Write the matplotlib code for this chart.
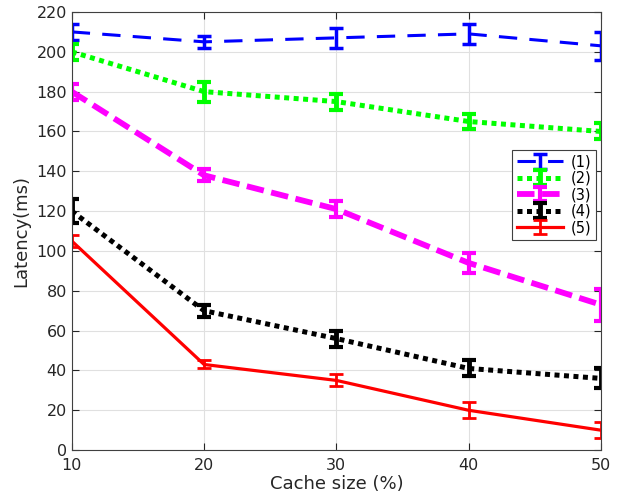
import matplotlib
matplotlib.use('Agg')
import matplotlib.pyplot as plt

# cache size (%) and latency (ms) per configuration
cache_size = [10, 20, 30, 40, 50]

lat1 = [210, 205, 207, 209, 203]
err1 = [4, 3, 5, 5, 7]
lat2 = [200, 180, 175, 165, 160]
err2 = [4, 5, 4, 4, 4]
lat3 = [180, 138, 121, 94, 73]
err3 = [4, 3, 4, 5, 8]
lat4 = [120, 70, 56, 41, 36]
err4 = [6, 3, 4, 4, 5]
lat5 = [105, 43, 35, 20, 10]
err5 = [3, 2, 3, 4, 4]

labels = ['(1)', '(2)', '(3)', '(4)', '(5)']

fig = plt.figure(figsize=(6.24, 4.99), dpi=100)
ax = fig.add_axes([0.115, 0.098, 0.848, 0.878])

ax.errorbar(cache_size, lat1, yerr=err1, color='#0000ff', lw=2.2,
            dashes=(6, 4), capsize=5, capthick=2.5, elinewidth=2.5, label=labels[0])
ax.errorbar(cache_size, lat2, yerr=err2, color='#00ff00', lw=3.6,
            dashes=(1, 0.9), capsize=5, capthick=3, elinewidth=3.5, label=labels[1])
ax.errorbar(cache_size, lat3, yerr=err3, color='#ff00ff', lw=4.2,
            dashes=(3, 1.3), capsize=5, capthick=3, elinewidth=3, label=labels[2])
ax.errorbar(cache_size, lat4, yerr=err4, color='black', lw=3.6,
            dashes=(1, 0.9), capsize=5, capthick=3, elinewidth=3.5, label=labels[3])
ax.errorbar(cache_size, lat5, yerr=err5, color='#ff0000', lw=2.3,
            capsize=5, capthick=2, elinewidth=2, label=labels[4])

ax.set_xlim(10, 50)
ax.set_ylim(0, 220)
ax.set_xticks([10, 20, 30, 40, 50])
ax.set_yticks(range(0, 221, 20))
ax.grid(True, color='#e0e0e0', lw=0.8)
ax.set_axisbelow(True)
ax.tick_params(direction='in', top=True, right=True, labelsize=11.5,
               colors='#262626', length=5)
ax.tick_params(axis='x', pad=6)
for s in ax.spines.values():
    s.set_color('#404040')
    s.set_linewidth(0.8)

ax.set_xlabel('Cache size (%)', fontsize=13, color='#262626', labelpad=1)
ax.set_ylabel('Latency(ms)', fontsize=13, color='#262626', labelpad=4)

leg = ax.legend(loc='upper right', bbox_to_anchor=(0.99, 0.685), fontsize=10.5,
                fancybox=False, edgecolor='#404040', framealpha=1,
                handlelength=3.2, borderpad=0.3, labelspacing=0.1,
                handletextpad=0.5, borderaxespad=0)
leg.get_frame().set_linewidth(0.8)

fig.savefig('out.png', dpi=100)
